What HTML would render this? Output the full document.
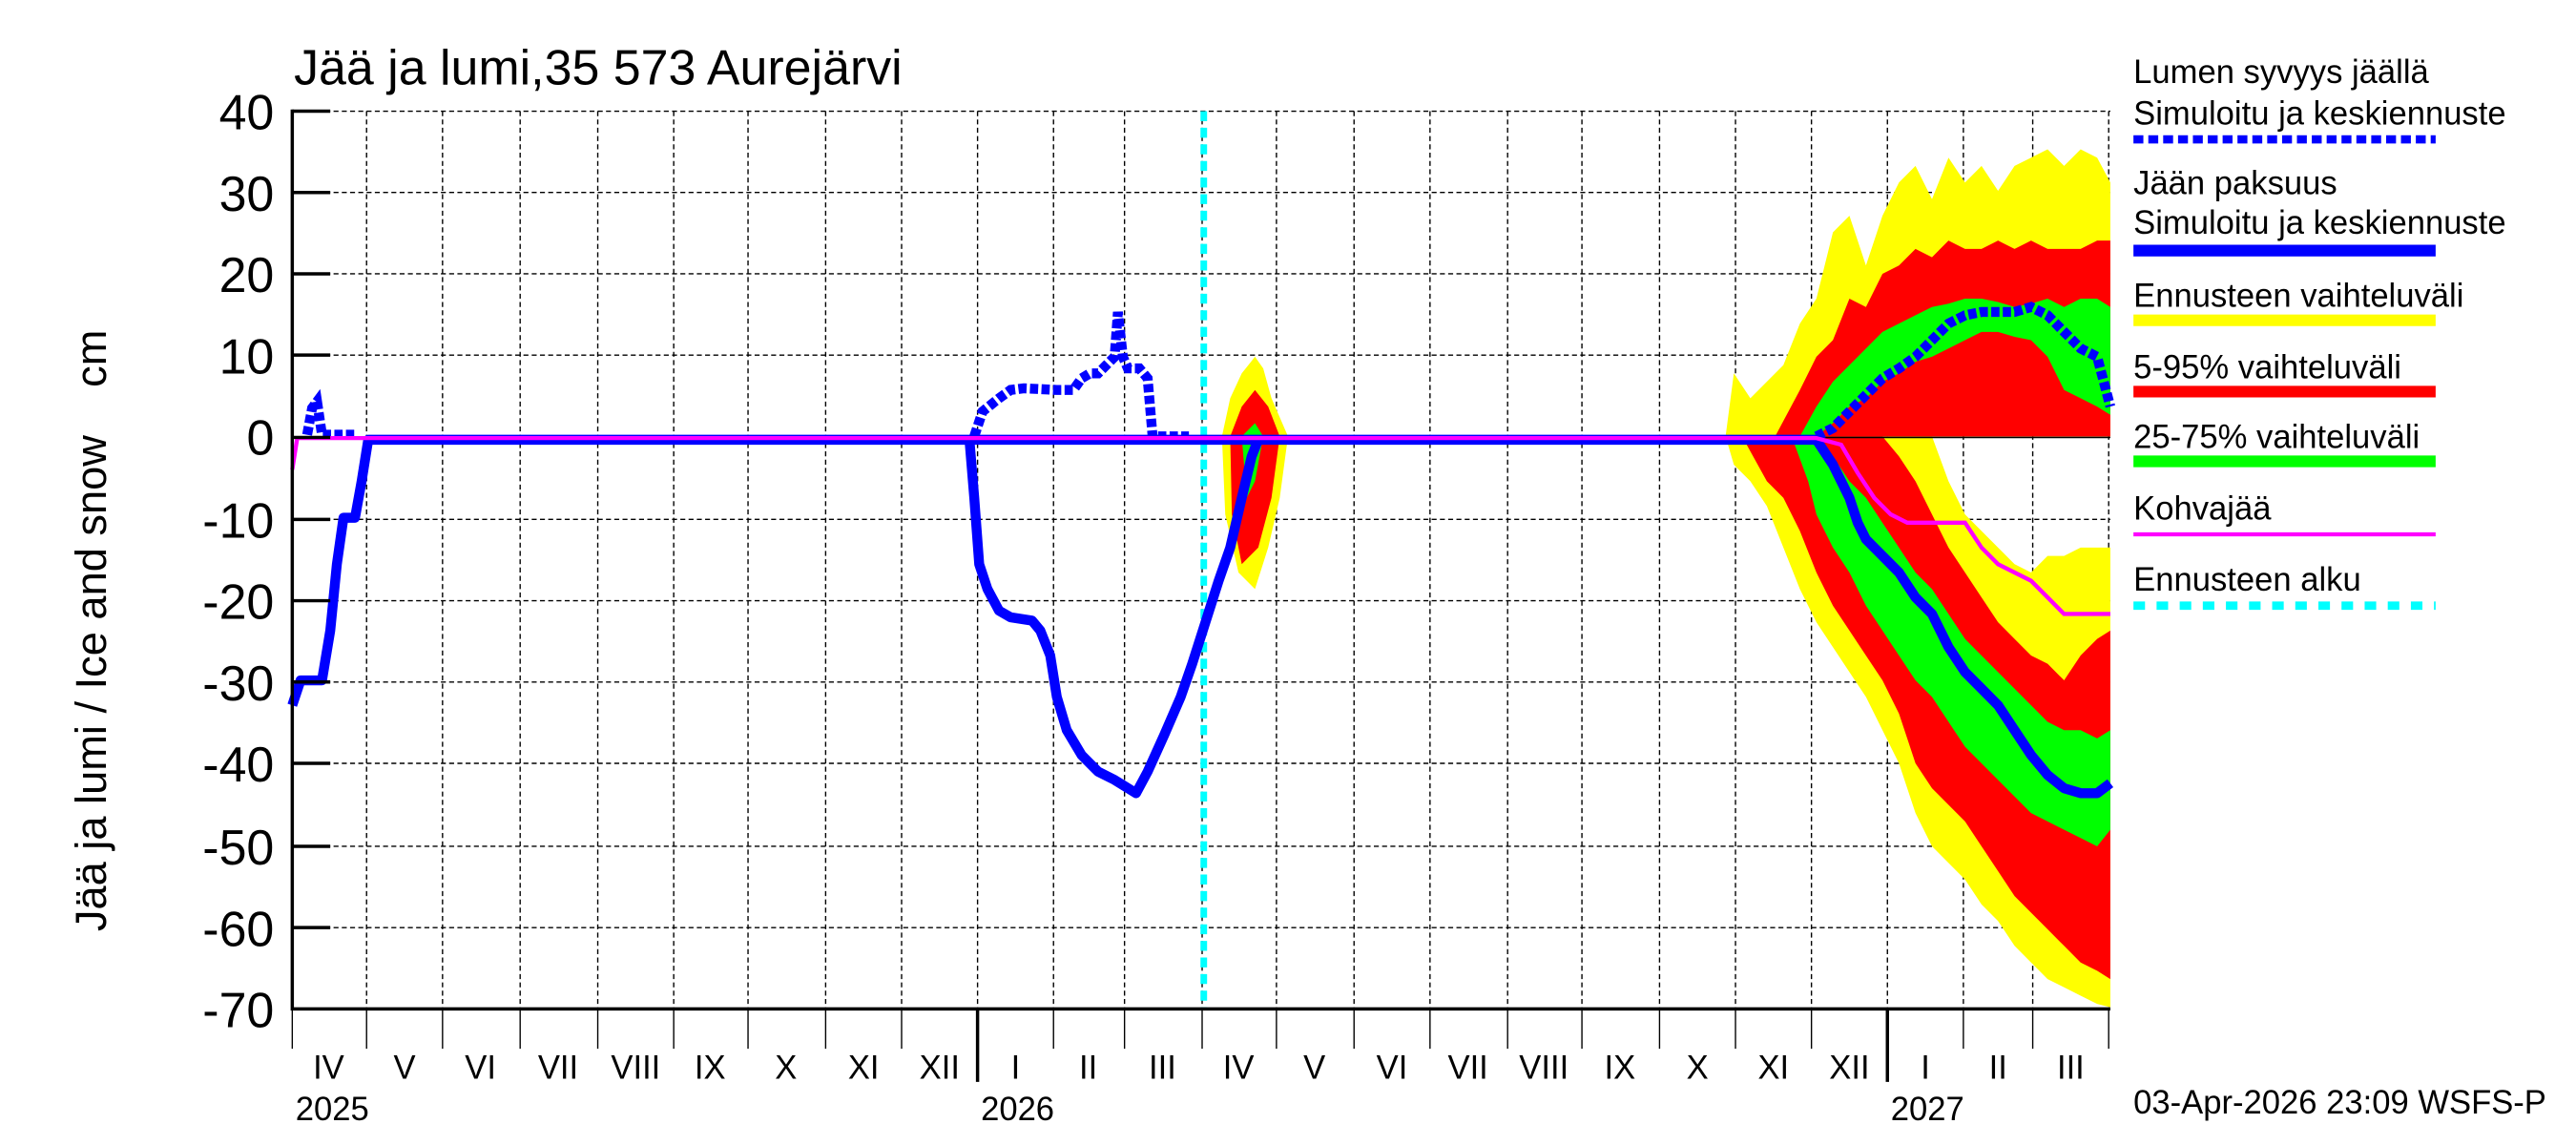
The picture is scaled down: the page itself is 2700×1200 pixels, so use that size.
<!DOCTYPE html>
<html><head><meta charset="utf-8"><style>html,body{margin:0;padding:0;background:#fff}svg{display:block}</style></head><body>
<svg width="2700" height="1200" viewBox="0 0 1560 690" preserveAspectRatio="none" xmlns="http://www.w3.org/2000/svg" font-family="Liberation Sans, sans-serif">
<rect width="1560" height="690" fill="#fff"/>
<text x="178" y="51" font-size="30">Jää ja lumi,35 573 Aurejärvi</text>
<g stroke="#000" stroke-width="0.8" stroke-dasharray="3,2" fill="none">
<path d="M222 67V608M268 67V608M315 67V608M362 67V608M408 67V608M453 67V608M500 67V608M546 67V608M592 67V608M638 67V608M681 67V608M728 67V608M773 67V608M820 67V608M866 67V608M913 67V608M958 67V608M1005 67V608M1051 67V608M1097 67V608M1143 67V608M1189 67V608M1231 67V608M1277 67V608"/>
<path d="M177 67H1278M177 116H1278M177 165H1278M177 214H1278M177 313H1278M177 362H1278M177 411H1278M177 460H1278M177 510H1278M177 559H1278"/>
</g>
<g fill="#ff0">
<polygon points="740,263 745,240 752,225 760,215 765,222 770,240 780,263 775,300 768,330 760,355 750,345 742,310"/>
<polygon points="1045,263 1050,225 1060,240 1070,230 1080,220 1090,195 1100,180 1110,140 1120,130 1130,160 1140,130 1150,110 1160,100 1170,120 1180,95 1190,110 1200,100 1210,115 1220,100 1230,95 1240,90 1250,100 1260,90 1270,95 1278,110 1278,263"/>
<polygon points="1045,263 1050,280 1060,290 1070,305 1080,330 1090,355 1100,375 1110,390 1120,405 1130,420 1140,440 1150,460 1160,490 1170,510 1180,520 1190,530 1200,545 1210,555 1220,570 1230,580 1240,590 1250,595 1260,600 1270,605 1278,607 1278,330 1270,330 1260,330 1250,335 1240,335 1230,345 1220,340 1210,330 1200,320 1190,310 1180,290 1170,263"/>
</g>
<g fill="#f00">
<polygon points="745,263 752,245 760,235 768,245 775,263 770,300 762,330 752,340 746,310"/>
<polygon points="1075,263 1090,235 1100,215 1110,205 1120,180 1130,185 1140,165 1150,160 1160,150 1170,155 1180,145 1190,150 1200,150 1210,145 1220,150 1230,145 1240,150 1250,150 1260,150 1270,145 1278,145 1278,263"/>
<polygon points="1055,263 1070,290 1080,300 1090,320 1100,345 1110,365 1120,380 1130,395 1140,410 1150,430 1160,460 1170,475 1180,485 1190,495 1200,510 1210,525 1220,540 1230,550 1240,560 1250,570 1260,580 1270,585 1278,590 1278,380 1270,385 1260,395 1250,410 1240,400 1230,395 1220,385 1210,375 1200,360 1190,345 1180,330 1170,310 1160,290 1150,275 1140,263"/>
</g>
<g fill="#0f0">
<polygon points="752,263 760,255 765,263 760,290 755,300"/>
<polygon points="1090,263 1100,245 1110,230 1120,220 1130,210 1140,200 1150,195 1160,190 1170,185 1180,183 1190,180 1200,180 1210,182 1220,185 1230,183 1240,180 1250,185 1260,180 1270,180 1278,185 1278,250 1270,245 1260,240 1250,235 1240,215 1230,205 1220,203 1210,200 1200,200 1190,205 1180,210 1170,215 1160,218 1150,225 1140,230 1130,240 1120,245 1110,255 1100,263"/>
<polygon points="1085,263 1095,290 1100,310 1110,330 1120,345 1130,365 1140,380 1150,395 1160,410 1170,420 1180,435 1190,450 1200,460 1210,470 1220,480 1230,490 1240,495 1250,500 1260,505 1270,510 1278,500 1278,440 1270,445 1260,440 1250,440 1240,435 1230,425 1220,415 1210,405 1200,395 1190,385 1180,370 1170,355 1160,345 1150,330 1140,315 1130,300 1120,290 1110,275 1095,263"/>
</g>
<line x1="1045" y1="263.6" x2="1278" y2="263.6" stroke="#000" stroke-width="1"/>
<line x1="729" y1="67" x2="729" y2="608" stroke="#0ff" stroke-width="4" stroke-dasharray="6,4"/>
<g fill="none" stroke="#00f" stroke-width="6" stroke-linejoin="round">
<polyline points="177,425 182,410 195,410 200,380 204,340 208,312 215,312 219,290 223,265 1100,265"/>
<polyline points="587,264 590,300 593,340 598,355 605,368 612,372 625,374 630,380 636,395 640,420 646,440 655,455 665,465 675,470 688,478 695,465 705,443 715,420 722,400 730,375 738,350 745,330 752,300 758,275 762,265"/>
<polyline points="1100,265 1110,280 1120,300 1125,315 1130,325 1140,335 1150,345 1160,360 1170,370 1180,390 1190,405 1200,415 1210,425 1220,440 1230,455 1240,467 1250,475 1260,478 1270,478 1278,472"/>
</g>
<g fill="none" stroke="#00f" stroke-width="6" stroke-dasharray="5,2">
<polyline points="186,262 189,246 192,242 195,262 215,262"/>
<polyline points="590,263 595,248 605,240 612,235 620,234 640,235 650,235 655,228 660,225 665,225 670,220 675,215 677,188 680,215 683,222 690,222 695,228 698,263 720,263"/>
<polyline points="1100,263 1110,258 1120,248 1130,238 1140,228 1150,222 1160,215 1170,205 1180,195 1190,190 1200,188 1210,188 1220,188 1230,185 1240,190 1250,200 1260,210 1270,215 1278,245"/>
</g>
<polyline fill="none" stroke="#f0f" stroke-width="2.5" points="177,283 180,264 1100,264 1115,268 1125,285 1135,300 1145,310 1155,315 1190,315 1200,330 1210,340 1220,345 1230,350 1240,360 1250,370 1278,370"/>
<g stroke="#000" stroke-width="2" fill="none">
<path d="M177 66V608H1278"/>
<path d="M177 67H200M177 116H200M177 165H200M177 214H200M177 263.6H200M177 313H200M177 362H200M177 411H200M177 460H200M177 510H200M177 559H200"/>
</g>
<g stroke="#000" stroke-width="0.8">
<path d="M177 608V632M222 608V632M268 608V632M315 608V632M362 608V632M408 608V632M453 608V632M500 608V632M546 608V632M638 608V632M681 608V632M728 608V632M773 608V632M820 608V632M866 608V632M913 608V632M958 608V632M1005 608V632M1051 608V632M1097 608V632M1189 608V632M1231 608V632M1277 608V632"/>
</g>
<path d="M592 608V652M1143 608V652" stroke="#000" stroke-width="2"/>
<g font-size="30" text-anchor="end">
<text x="166" y="78">40</text><text x="166" y="127">30</text><text x="166" y="176">20</text><text x="166" y="225">10</text><text x="166" y="274">0</text><text x="166" y="324">-10</text><text x="166" y="373">-20</text><text x="166" y="422">-30</text><text x="166" y="471">-40</text><text x="166" y="521">-50</text><text x="166" y="570">-60</text><text x="166" y="619">-70</text>
</g>
<text transform="translate(64,380) rotate(-90)" font-size="26" text-anchor="middle" xml:space="preserve">Jää ja lumi / Ice and snow    cm</text>
<g font-size="20" text-anchor="middle">
<text x="199" y="650">IV</text><text x="245" y="650">V</text><text x="291" y="650">VI</text><text x="338" y="650">VII</text><text x="385" y="650">VIII</text><text x="430" y="650">IX</text><text x="476" y="650">X</text><text x="523" y="650">XI</text><text x="569" y="650">XII</text><text x="615" y="650">I</text><text x="659" y="650">II</text><text x="704" y="650">III</text><text x="750" y="650">IV</text><text x="796" y="650">V</text><text x="843" y="650">VI</text><text x="889" y="650">VII</text><text x="935" y="650">VIII</text><text x="981" y="650">IX</text><text x="1028" y="650">X</text><text x="1074" y="650">XI</text><text x="1120" y="650">XII</text><text x="1166" y="650">I</text><text x="1210" y="650">II</text><text x="1254" y="650">III</text>
</g>
<g font-size="20">
<text x="179" y="675">2025</text><text x="594" y="675">2026</text><text x="1145" y="675">2027</text>
<text x="1292" y="50">Lumen syvyys jäällä</text>
<text x="1292" y="75">Simuloitu ja keskiennuste</text>
<text x="1292" y="117">Jään paksuus</text>
<text x="1292" y="141">Simuloitu ja keskiennuste</text>
<text x="1292" y="185">Ennusteen vaihteluväli</text>
<text x="1292" y="228">5-95% vaihteluväli</text>
<text x="1292" y="270">25-75% vaihteluväli</text>
<text x="1292" y="313">Kohvajää</text>
<text x="1292" y="356">Ennusteen alku</text>
<text x="1292" y="671">03-Apr-2026 23:09 WSFS-P</text>
</g>
<line x1="1292" y1="84" x2="1475" y2="84" stroke="#00f" stroke-width="5" stroke-dasharray="6,3"/>
<line x1="1292" y1="151" x2="1475" y2="151" stroke="#00f" stroke-width="7"/>
<line x1="1292" y1="193" x2="1475" y2="193" stroke="#ff0" stroke-width="7"/>
<line x1="1292" y1="236" x2="1475" y2="236" stroke="#f00" stroke-width="7"/>
<line x1="1292" y1="278" x2="1475" y2="278" stroke="#0f0" stroke-width="7"/>
<line x1="1292" y1="322" x2="1475" y2="322" stroke="#f0f" stroke-width="2.5"/>
<line x1="1292" y1="365" x2="1475" y2="365" stroke="#0ff" stroke-width="5" stroke-dasharray="7,7"/>
</svg>
</body></html>
